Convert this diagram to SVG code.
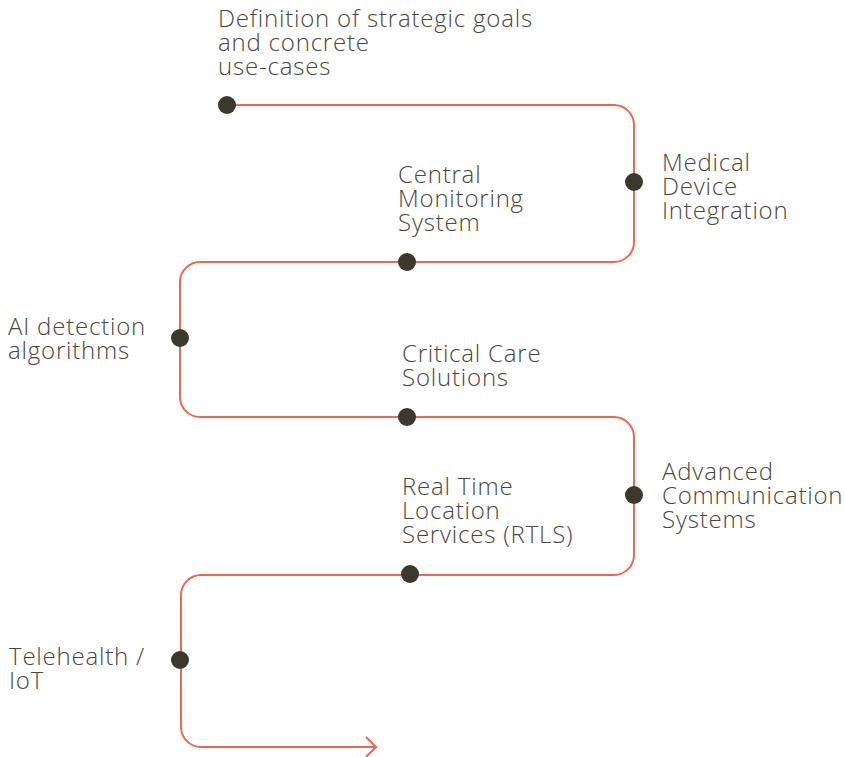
<svg xmlns="http://www.w3.org/2000/svg" width="845" height="757" viewBox="0 0 845 757">
<style>
text{font-family:"Open Sans","Liberation Sans",sans-serif;font-weight:300;font-size:24px;letter-spacing:0.8px;fill:#4a473f}
.dot{fill:#3b382c}
.path{fill:none;stroke:#ef6553;stroke-width:2}
</style>
<rect width="845" height="757" fill="#ffffff"/>
<g id="connectors">
<path class="path" d="M227,105 H614 A20,20 0 0 1 634,125 V242 A20,20 0 0 1 614,262 H200 A20,20 0 0 0 180,282 V397 A20,20 0 0 0 200,417 H614 A20,20 0 0 1 634,437 V555 A20,20 0 0 1 614,575 H201 A20,20 0 0 0 181,595 V727 A20,20 0 0 0 201,747 H376"/>
<path class="path" d="M366,737 L376,747 L366,757"/>
</g>
<g id="n1"><circle class="dot" cx="227" cy="105" r="9"/><text x="218" y="27">Definition of strategic goals<tspan x="218" dy="24">and concrete</tspan><tspan x="218" dy="24">use-cases</tspan></text></g>
<g id="n2"><circle class="dot" cx="634" cy="182" r="9"/><text x="662" y="171">Medical<tspan x="662" dy="24">Device</tspan><tspan x="662" dy="24">Integration</tspan></text></g>
<g id="n3"><circle class="dot" cx="407" cy="262" r="9"/><text x="398" y="183">Central<tspan x="398" dy="24">Monitoring</tspan><tspan x="398" dy="24">System</tspan></text></g>
<g id="n4"><circle class="dot" cx="180" cy="338" r="9"/><text x="8" y="335">AI detection<tspan x="8" dy="24">algorithms</tspan></text></g>
<g id="n5"><circle class="dot" cx="407" cy="417" r="9"/><text x="402" y="362">Critical Care<tspan x="402" dy="24">Solutions</tspan></text></g>
<g id="n6"><circle class="dot" cx="634" cy="495" r="9"/><text x="662" y="480">Advanced<tspan x="662" dy="24">Communication</tspan><tspan x="662" dy="24">Systems</tspan></text></g>
<g id="n7"><circle class="dot" cx="410" cy="574" r="9"/><text x="402" y="495">Real Time<tspan x="402" dy="24">Location</tspan><tspan x="402" dy="24">Services (RTLS)</tspan></text></g>
<g id="n8"><circle class="dot" cx="180" cy="660" r="9"/><text x="9" y="665">Telehealth /<tspan x="9" dy="24">IoT</tspan></text></g>
</svg>
